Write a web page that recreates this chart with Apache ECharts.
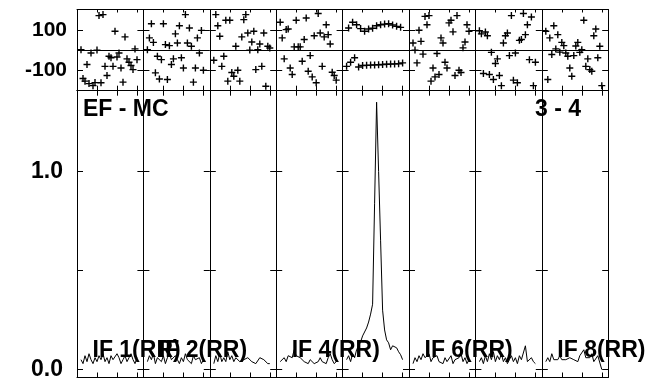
<!DOCTYPE html>
<html lang="en">
<head>
<meta charset="utf-8">
<title>EF - MC  3 - 4</title>
<script src="https://cdn.jsdelivr.net/npm/echarts@6/dist/echarts.min.js"></script>
<style>
  html, body { margin: 0; padding: 0; background: #fff; }
  #chart { width: 649px; height: 378px; }
</style>
</head>
<body>
<div id="chart"></div>
<script>
// channel numbers plotted in every IF panel
var channels = [2, 3, 4, 5, 6, 7, 8, 9, 10, 11, 12, 13, 14, 15, 16, 17, 18, 19, 20, 21, 22, 23, 24, 25, 26, 27, 28, 29, 30];
var chanTicks = [10, 20, 30];

var ifLabels = ['IF 1(RR)', 'IF 2(RR)', '', 'IF 4(RR)', '', 'IF 6(RR)', '', 'IF 8(RR)'];

// phase (degrees), one value per channel
var phaseIF1 = [2, -140, -153, -71, -165, -14, -175, -160, 0, 170, -161, 175, -80, -125, -30, -38, -80, 93, -34, -14, -88, -158, 65, -43, -60, -76, -96, 6, -47];
var phaseIF2 = [2, 60, 130, 38, -112, -30, -142, -47, 130, 27, -145, 22, -71, -43, 80, 35, 120, -38, -88, 175, 35, 109, 19, -158, -88, 60, -14, 97, -99];
var phaseIF3 = [-50, 175, 120, 68, -80, -30, 147, -153, 147, -110, -129, 19, -99, -153, 65, 150, 175, 84, 0, 40, 93, -96, 2, 30, -80, 84, -178, 19, 10];
var phaseIF4 = [137, 60, -43, 101, 104, -88, -120, 16, 147, 16, 16, -55, 52, 158, -104, -27, -132, 71, -161, 180, 84, -80, 65, 125, 76, 30, -109, -125, -148];
var phaseIF5 = [-80, 109, -60, 137, -38, 125, -83, 106, -76, 93, -75, 104, -74, 108, -73, 120, -72, 125, -71, 128, -70, 130, -69, 124, -68, 117, -67, 112, -63];
var phaseIF6 = [35, 0, -63, 98, 43, -20, 166, 125, 170, -153, -88, -132, -17, -120, 60, 35, -60, -88, 134, 147, 90, -125, 170, -99, -110, 11, 40, 125, 93];
var phaseIF7 = [95, 80, -115, 89, 71, -120, -11, -145, -66, -43, -125, -175, 35, 71, 84, -27, 170, -148, -14, -161, 48, 52, 180, 76, 125, -47, 163, -175, -60];
var phaseIF8 = [93, -145, 60, -22, 120, 6, 76, -10, 38, 22, -14, -30, -88, -129, -27, 20, 38, -11, 2, 147, -80, -43, -96, -104, 71, 104, -38, 19, -175];

// amplitude, one value per channel
var ampIF1 = [0.05, 0.03, 0.07, 0.04, 0.08, 0.05, 0.03, 0.06, 0.04, 0.07, 0.05, 0.08, 0.04, 0.06, 0.03, 0.07, 0.05, 0.04, 0.08, 0.06, 0.03, 0.05, 0.07, 0.04, 0.06, 0.08, 0.05, 0.03, 0.06];
var ampIF2 = [0.04, 0.07, 0.05, 0.08, 0.03, 0.06, 0.05, 0.04, 0.07, 0.03, 0.06, 0.08, 0.05, 0.04, 0.07, 0.05, 0.03, 0.06, 0.04, 0.08, 0.05, 0.06, 0.03, 0.07, 0.05, 0.04, 0.06, 0.03, 0.05];
var ampIF3 = [0.03, 0.07, 0.04, 0.08, 0.04, 0.06, 0.04, 0.09, 0.05, 0.07, 0.04, 0.06, 0.05, 0.04, 0.03, 0.05, 0.04, 0.06, 0.05, 0.04, 0.05, 0.03, 0.04, 0.06, 0.06, 0.05, 0.04, 0.03, 0.03];
var ampIF4 = [0.04, 0.05, 0.06, 0.04, 0.07, 0.08, 0.06, 0.10, 0.07, 0.08, 0.06, 0.05, 0.04, 0.05, 0.03, 0.05, 0.04, 0.03, 0.02, 0.04, 0.06, 0.04, 0.05, 0.03, 0.06, 0.08, 0.05, 0.03, 0.04];
var ampIF5 = [0.05, 0.07, 0.04, 0.08, 0.06, 0.10, 0.09, 0.14, 0.17, 0.16, 0.21, 0.24, 0.28, 0.33, 0.84, 1.35, 1.00, 0.65, 0.30, 0.20, 0.15, 0.135, 0.10, 0.12, 0.11, 0.11, 0.09, 0.075, 0.05];
var ampIF6 = [0.03, 0.06, 0.04, 0.07, 0.05, 0.08, 0.06, 0.05, 0.08, 0.04, 0.06, 0.05, 0.07, 0.04, 0.05, 0.03, 0.06, 0.04, 0.05, 0.07, 0.03, 0.05, 0.04, 0.06, 0.08, 0.04, 0.06, 0.03, 0.05];
var ampIF7 = [0.04, 0.06, 0.03, 0.07, 0.04, 0.08, 0.05, 0.09, 0.04, 0.07, 0.05, 0.08, 0.04, 0.06, 0.03, 0.05, 0.07, 0.04, 0.06, 0.03, 0.07, 0.05, 0.06, 0.12, 0.04, 0.03, 0.06, 0.04, 0.03];
var ampIF8 = [0.04, 0.06, 0.04, 0.08, 0.05, 0.06, 0.05, 0.07, 0.05, 0.06, 0.05, 0.04, 0.06, 0.05, 0.05, 0.06, 0.04, 0.07, 0.08, 0.10, 0.06, 0.05, 0.06, 0.08, 0.04, 0.05, 0.07, 0.06, 0.00];

var phases = [phaseIF1, phaseIF2, phaseIF3, phaseIF4, phaseIF5, phaseIF6, phaseIF7, phaseIF8];
var amps = [ampIF1, ampIF2, ampIF3, ampIF4, ampIF5, ampIF6, ampIF7, ampIF8];

// layout
var LEFT = 77, PW = 66.4;
var PH_TOP = 9.5, PH_BOT = 90.7, AMP_BOT = 377.5;
var FONT = '"Liberation Sans", Arial, sans-serif';
var plus = 'path://M0,40H100V60H0Z M40,0H60V100H40Z';

var grids = [], xAxes = [], yAxes = [], series = [];

function axisLineStyle() { return { show: true, onZero: false, lineStyle: { color: '#000', width: 1 } }; }

function addGrid(col, top, height, yMin, yMax, yTicks, yLabels, labelSize, labelMargin, topTickLen) {
    var g = grids.length;
    grids.push({ left: LEFT + col * PW, top: top, width: PW, height: height, containLabel: false, outerBoundsMode: 'none' });
    // bottom + top x axes (ticks only)
    xAxes.push({ type: 'value', gridIndex: g, position: 'bottom', min: 0, max: PW / 2,
        axisLine: axisLineStyle(), splitLine: { show: false }, axisLabel: { show: false },
        axisTick: { show: true, inside: true, length: 5, customValues: chanTicks, lineStyle: { color: '#000' } } });
    xAxes.push({ type: 'value', gridIndex: g, position: 'top', min: 0, max: PW / 2,
        axisLine: axisLineStyle(), splitLine: { show: false }, axisLabel: { show: false },
        axisTick: { show: true, inside: true, length: topTickLen, customValues: chanTicks, lineStyle: { color: '#000' } } });
    // left + right y axes
    yAxes.push({ type: 'value', gridIndex: g, position: 'left', min: yMin, max: yMax,
        axisLine: axisLineStyle(), splitLine: { show: false },
        axisTick: { show: true, inside: true, length: 6, customValues: yTicks, lineStyle: { color: '#000' } },
        axisLabel: { show: col === 0, customValues: yLabels, margin: labelMargin, color: '#000',
            fontFamily: FONT, fontWeight: 'bold', fontSize: labelSize,
            formatter: function (v) { return yMax > 100 ? String(v) : v.toFixed(1); } } });
    yAxes.push({ type: 'value', gridIndex: g, position: 'right', min: yMin, max: yMax,
        axisLine: axisLineStyle(), splitLine: { show: false }, axisLabel: { show: false },
        axisTick: { show: true, inside: true, length: 6, customValues: yTicks, lineStyle: { color: '#000' } } });
    return g;
}

for (var i = 0; i < 8; i++) {
    var gp = addGrid(i, PH_TOP, PH_BOT - PH_TOP, -200, 200, [-100, 100], [-100, 100], 21, 10, 3);
    series.push({
        type: 'scatter', xAxisIndex: 2 * gp, yAxisIndex: 2 * gp,
        symbol: plus, symbolSize: 7, itemStyle: { color: '#000', opacity: 1 },
        data: channels.map(function (c, k) { return [c, phases[i][k]]; }),
        markLine: { silent: true, symbol: 'none', label: { show: false },
            lineStyle: { color: '#000', width: 1, type: 'solid' }, data: [{ yAxis: 0 }] },
        animation: false
    });
}
for (var j = 0; j < 8; j++) {
    var ga = addGrid(j, PH_BOT, AMP_BOT - PH_BOT, -0.04, 1.408, [0, 0.5, 1], [0, 1], 23, 14, 5);
    series.push({
        type: 'line', xAxisIndex: 2 * ga, yAxisIndex: 2 * ga,
        showSymbol: false, lineStyle: { color: '#000', width: 1 },
        data: channels.map(function (c, k) { return [c, amps[j][k]]; }),
        animation: false
    });
}

var texts = [
    { text: 'EF - MC', x: 83, y: 110, align: 'left' },
    { text: '3 - 4', x: 581, y: 110, align: 'right' }
];
ifLabels.forEach(function (t, k) {
    if (t) texts.push({ text: t, x: LEFT + k * PW + 15.5, y: 351, align: 'left' });
});

var myChart = echarts.init(document.getElementById('chart'), null, { renderer: 'canvas' });
myChart.setOption({
    animation: false,
    backgroundColor: '#fff',
    grid: grids,
    xAxis: xAxes,
    yAxis: yAxes,
    series: series,
    graphic: texts.map(function (t) {
        return { type: 'text', z: 100, style: { text: t.text, x: t.x, y: t.y, fill: '#000',
            font: 'bold 23px ' + FONT, align: t.align, verticalAlign: 'middle' } };
    })
});
</script>
</body>
</html>
